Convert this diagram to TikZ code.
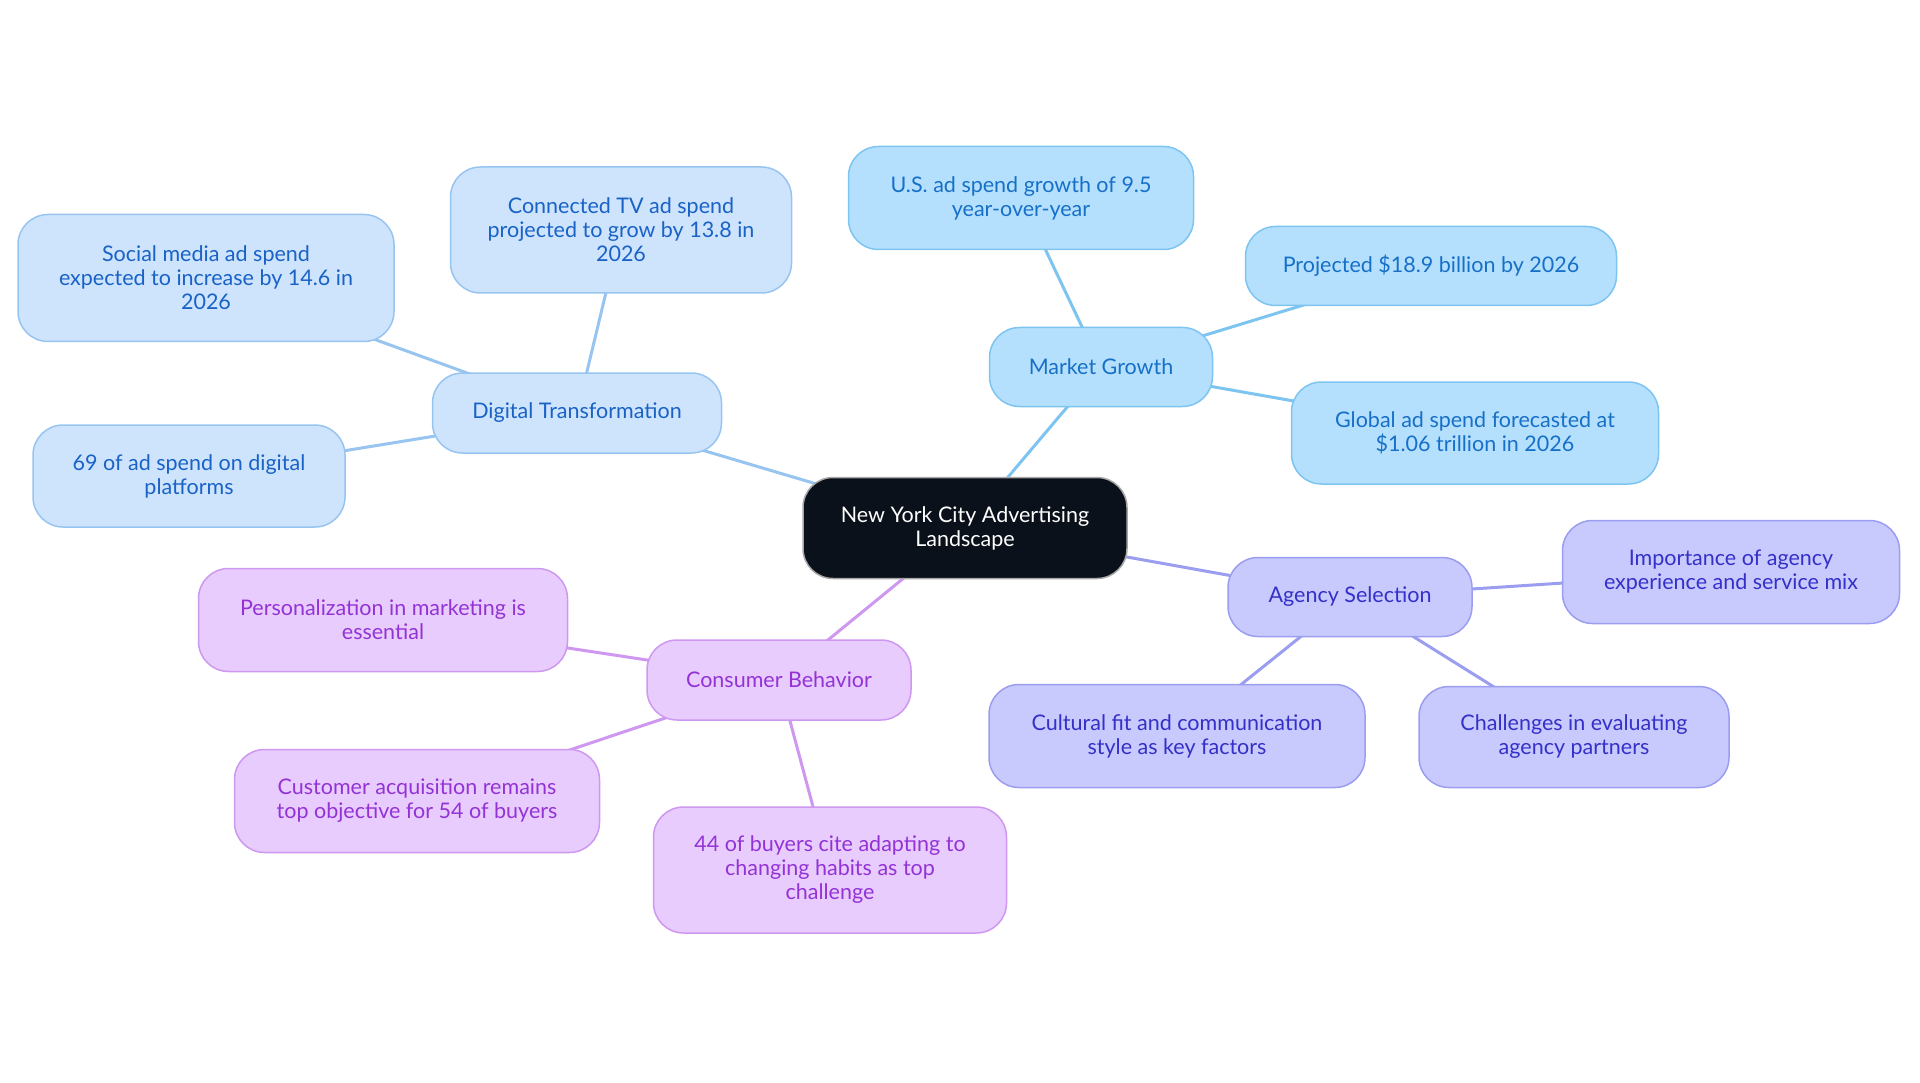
\documentclass[tikz,border=0pt]{standalone}
\usepackage{fontspec}
\setmainfont{Lato}
\usetikzlibrary{backgrounds}
\definecolor{cfill}{HTML}{0B111A}
\definecolor{mgfill}{HTML}{B5E0FD}
\definecolor{mgdraw}{HTML}{7EC4F1}
\definecolor{mgtext}{HTML}{1770C8}
\definecolor{dtfill}{HTML}{CDE4FC}
\definecolor{dtdraw}{HTML}{98C4F0}
\definecolor{dttext}{HTML}{1A62C6}
\definecolor{cbfill}{HTML}{E8CCFD}
\definecolor{cbdraw}{HTML}{CE98F0}
\definecolor{cbtext}{HTML}{9333D6}
\definecolor{asfill}{HTML}{C8CAFD}
\definecolor{asdraw}{HTML}{9A9DF0}
\definecolor{astext}{HTML}{3430C8}
\tikzset{
  box/.style={rounded corners=30pt, line width=1.5pt, align=center, inner sep=0pt,
    font=\fontsize{21.5}{24}\selectfont},
  mg/.style={box, fill=mgfill, draw=mgdraw, text=mgtext},
  dt/.style={box, fill=dtfill, draw=dtdraw, text=dttext},
  cb/.style={box, fill=cbfill, draw=cbdraw, text=cbtext},
  as/.style={box, fill=asfill, draw=asdraw, text=astext},
  root/.style={box, fill=cfill, draw=gray!70, text=white},
  sz/.style 2 args={minimum width=#1pt, minimum height=#2pt},
  mgl/.style={draw=mgdraw, line width=3pt},
  dtl/.style={draw=dtdraw, line width=3pt},
  cbl/.style={draw=cbdraw, line width=3pt},
  asl/.style={draw=asdraw, line width=3pt},
}
\begin{document}
\begin{tikzpicture}[x=1pt,y=1pt]
\useasboundingbox (0,0) rectangle (1920,-1083);
% nodes
\node[root, sz={324}{101}] (c) at (965,-528) {New York City Advertising\\Landscape};
\node[mg, sz={223}{79}] (mg) at (1101,-367) {Market Growth};
\node[mg, sz={345}{103}] (mg1) at (1021,-198) {U.S. ad spend growth of 9.5\\year-over-year};
\node[mg, sz={371}{79}] (mg2) at (1431,-266) {Projected \$18.9 billion by 2026};
\node[mg, sz={367}{102}] (mg3) at (1475,-433) {Global ad spend forecasted at\\\$1.06 trillion in 2026};
\node[dt, sz={289}{80}] (dt) at (577,-413) {Digital Transformation};
\node[dt, sz={341}{126}] (dt1) at (621,-230) {Connected TV ad spend\\projected to grow by 13.8 in\\2026};
\node[dt, sz={376}{127}] (dt2) at (206,-278) {Social media ad spend\\expected to increase by 14.6 in\\2026};
\node[dt, sz={312}{102}] (dt3) at (189,-476) {69 of ad spend on digital\\platforms};
\node[cb, sz={264}{80}] (cb) at (779,-680) {Consumer Behavior};
\node[cb, sz={369}{103}] (cb1) at (383,-620) {Personalization in marketing is\\essential};
\node[cb, sz={365}{103}] (cb2) at (417,-801) {Customer acquisition remains\\top objective for 54 of buyers};
\node[cb, sz={353}{126}] (cb3) at (830,-870) {44 of buyers cite adapting to\\changing habits as top\\challenge};
\node[as, sz={244}{79}] (as) at (1350,-597) {Agency Selection};
\node[as, sz={337}{103}] (as1) at (1731,-572) {Importance of agency\\experience and service mix};
\node[as, sz={376}{103}] (as2) at (1177,-736) {Cultural fit and communication\\style as key factors};
\node[as, sz={310}{101}] (as3) at (1574,-737) {Challenges in evaluating\\agency partners};
% connectors
\begin{scope}[on background layer]
\draw[mgl] (c.center) -- (mg.center);
\draw[mgl] (mg.center) -- (mg1.center);
\draw[mgl] (mg.center) -- (mg2.center);
\draw[mgl] (mg.center) -- (mg3.center);
\draw[dtl] (c.center) -- (dt.center);
\draw[dtl] (dt.center) -- (dt1.center);
\draw[dtl] (dt.center) -- (dt2.center);
\draw[dtl] (dt.center) -- (dt3.center);
\draw[cbl] (c.center) -- (cb.center);
\draw[cbl] (cb.center) -- (cb1.center);
\draw[cbl] (cb.center) -- (cb2.center);
\draw[cbl] (cb.center) -- (cb3.center);
\draw[asl] (c.center) -- (as.center);
\draw[asl] (as.center) -- (as1.center);
\draw[asl] (as.center) -- (as2.center);
\draw[asl] (as.center) -- (as3.center);
\end{scope}
\end{tikzpicture}
\end{document}
